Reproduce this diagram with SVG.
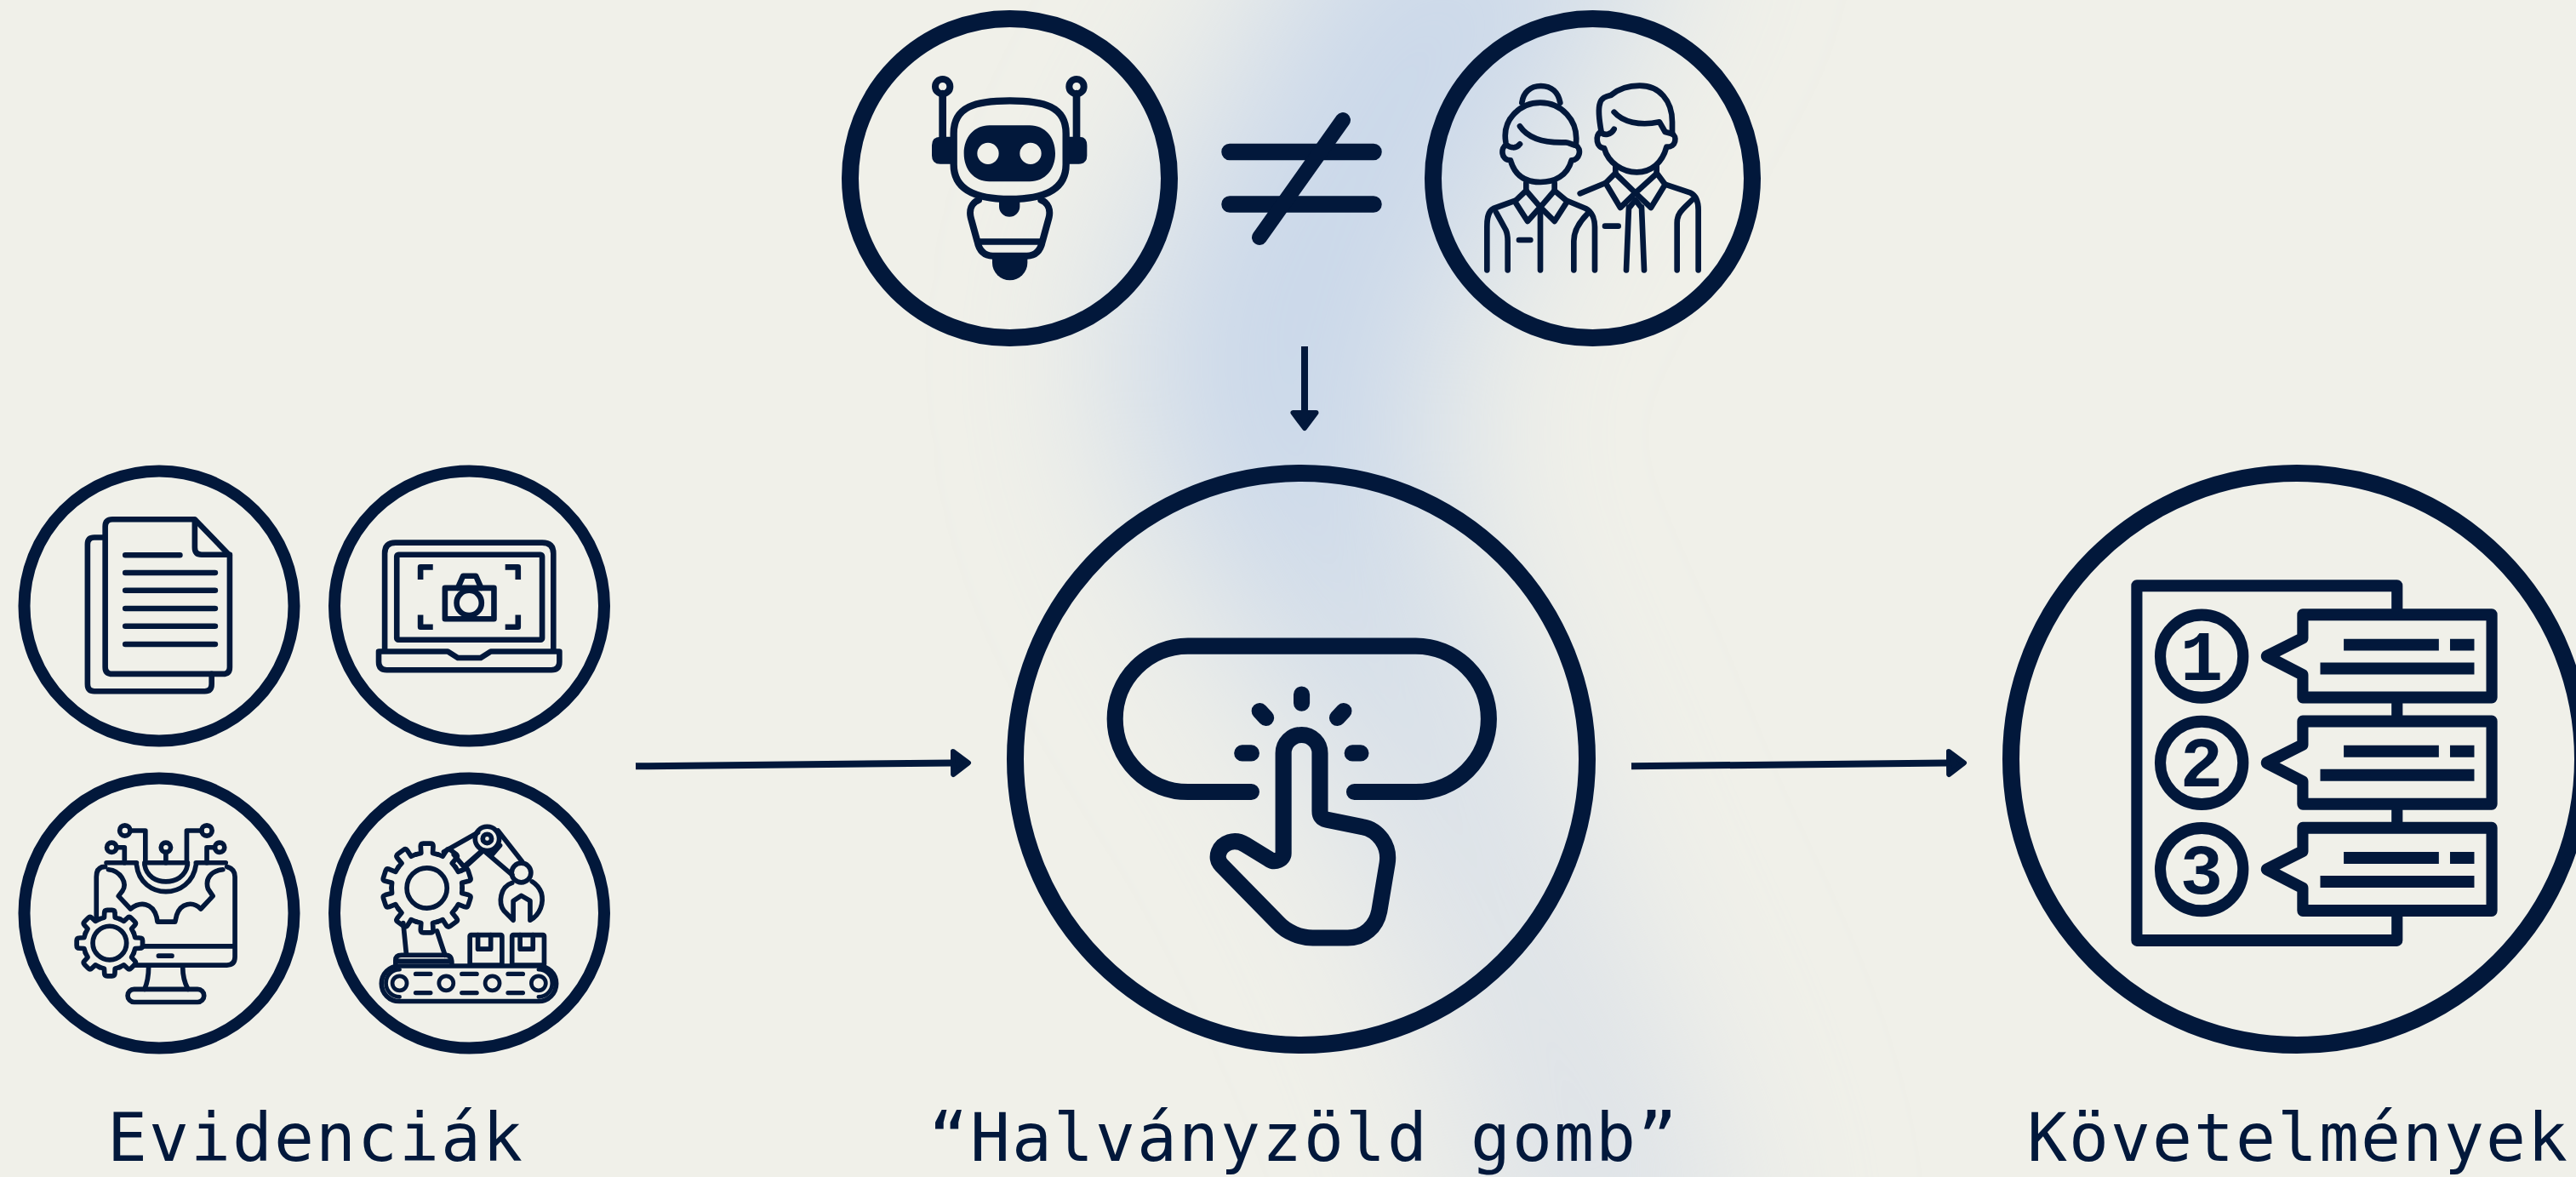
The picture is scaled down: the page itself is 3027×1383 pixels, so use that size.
<svg xmlns="http://www.w3.org/2000/svg" width="3027" height="1383" viewBox="0 0 3027 1383">
<style>
.l{fill:none;stroke:#02183b;stroke-linecap:round;stroke-linejoin:round}
.f{fill:#02183b}
.c{fill:none;stroke:#02183b}
.a{fill:none;stroke:#02183b;stroke-width:8}
.t{font-family:"DejaVu Sans Mono","Liberation Mono",monospace;font-size:78px;letter-spacing:2.040px;fill:#02183b}
.n{font-family:"Liberation Mono","DejaVu Sans Mono",monospace;font-size:84px;font-weight:700;fill:#02183b;text-anchor:middle}
</style>
<defs>
<filter id="blur" filterUnits="userSpaceOnUse" x="700" y="-500" width="1900" height="2400"><feGaussianBlur stdDeviation="100"/></filter>
<linearGradient id="blob" gradientUnits="userSpaceOnUse" x1="0" y1="0" x2="0" y2="1383">
<stop offset="0" stop-color="#cad8ea"/><stop offset=".38" stop-color="#cad8ea"/><stop offset=".6" stop-color="#d6dfe9"/><stop offset=".8" stop-color="#dde2e8"/><stop offset="1" stop-color="#dde2e8"/>
</linearGradient>
<marker id="head" markerUnits="userSpaceOnUse" markerWidth="30" markerHeight="40" refX="3" refY="20" orient="auto" viewBox="0 0 30 40">
<path d="M3,6.500 L21,20 L3,33.500 Z" fill="#02183b" stroke="#02183b" stroke-width="6" stroke-linejoin="round"/>
</marker>
<path id="tooth8" d="M-24.900,-60.100 Q-18,-62 -13.500,-63.600 L-13,-75 Q-13,-82 -6,-82 H6 Q13,-82 13,-75 L13.500,-63.600 Q18,-62 24.900,-60.100"/>
<path id="tooth10" d="M-27.200,-83.700 Q-21,-85.500 -14.500,-86.800 L-15.600,-104 Q-15.600,-111 -9,-111 H9 Q15.600,-111 15.600,-104 L14.500,-86.800 Q21,-85.500 27.200,-83.700"/>
</defs>
<rect width="3027" height="1383" fill="#f0f0e9"/>
<path id="glow" filter="url(#blur)" fill="url(#blob)" d="M1580,-150 L1980,-150 C1860,100 1730,300 1680,450 C1660,600 1780,800 1840,950 C1880,1100 2040,1300 2040,1550 L1770,1550 C1750,1300 1640,1100 1540,900 C1440,750 1340,600 1320,450 C1300,300 1460,100 1580,-150Z"/>

<g id="connectors">
<line class="a" x1="747" y1="900.300" x2="1120" y2="896.500" marker-end="url(#head)"/>
<line class="a" x1="1917" y1="900.300" x2="2290" y2="896.500" marker-end="url(#head)"/>
<line class="a" x1="1533" y1="407" x2="1533" y2="485" marker-end="url(#head)"/>
</g>

<g id="neq">
<path class="l" stroke-width="19.500" d="M1445,178.500 H1614 M1445,240 H1614"/>
<path class="l" stroke-width="18" d="M1578,141 L1480,279"/>
</g>

<g id="robot">
<circle class="c" cx="1186.500" cy="209.500" r="187.500" stroke-width="20"/>
<g transform="translate(1060,70) scale(.33333)">
<path class="l" stroke-width="26" d="M143,120 V280 M615,120 V280"/>
<circle class="c" cx="143" cy="95" r="26" stroke-width="24"/>
<circle class="c" cx="615" cy="95" r="26" stroke-width="24"/>
<path class="f" d="M172,272 H135 Q105,272 105,302 V338 Q105,368 135,368 H178 Z M588,272 H622 Q652,272 652,302 V338 Q652,368 622,368 H583 Z"/>
<path class="l" stroke-width="25" d="M380,145 C500,145 578,165 578,260 V370 C578,460 500,492 380,492 C260,492 182,460 182,370 V260 C182,165 260,145 380,145Z"/>
<path class="f" fill-rule="evenodd" d="M308,232 H450 C505,232 540,275 540,331 C540,387 505,430 450,430 H308 C253,430 218,387 218,331 C218,275 253,232 308,232Z M341,331 A38,38 0 1 0 265,331 A38,38 0 1 0 341,331Z M491,331 A38,38 0 1 0 415,331 A38,38 0 1 0 491,331Z"/>
<path class="l" stroke-width="24" d="M270,495 C245,505 235,530 243,560 L265,640 C272,675 290,692 320,692 H440 C470,692 488,675 495,640 L517,560 C525,530 515,505 490,495"/>
<path class="f" d="M342,495 H415 V518 A36.500,36.500 0 0 1 342,518 Z"/>
<path class="l" stroke-width="22" stroke-linecap="butt" d="M270,642 H490"/>
<path class="f" d="M318,695 H442 V716 A62,62 0 0 1 318,716 Z"/>
</g>
</g>

<g id="people">
<circle class="c" cx="1871.500" cy="209.500" r="187.500" stroke-width="20"/>
<g transform="translate(1730,80) scale(.33333)" class="l" stroke-width="20">
<path d="M175,122 C180,85 205,63 242,63 C280,63 303,85 310,122"/>
<path d="M118,260 C105,180 170,122 240,122 C310,122 378,180 365,272"/>
<path d="M168,268 C155,285 135,282 120,270 C100,280 100,325 135,325 C150,380 190,402 240,402 C290,402 335,380 350,325 C378,325 388,285 365,272"/>
<path d="M168,205 C195,245 250,265 330,262 C340,262 350,270 362,272"/>
<path d="M190,405 V432 M290,405 V432"/>
<path d="M190,432 L150,470 L195,540 L240,490 L290,540 L335,470 L290,432 M190,432 L240,490 L290,432"/>
<path d="M150,468 L75,495 C55,505 52,530 52,560 V712 M335,468 L400,495 C420,505 432,530 432,560 V712"/>
<path d="M85,510 L118,570 C125,585 125,595 125,610 V712 M405,515 C380,540 358,570 358,610 V712 M240,495 V712 M165,606 H205"/>
<path d="M455,225 C445,170 445,140 450,125 C455,105 470,100 490,95 C520,70 550,62 590,62 C660,62 705,115 705,190 L705,232"/>
<path d="M500,155 C530,190 590,205 660,190 L680,225 L705,232"/>
<path d="M500,215 C490,235 465,240 452,225 C432,240 438,282 465,282 C480,335 530,367 580,367 C630,367 670,335 685,278 C720,280 722,240 705,232"/>
<path d="M505,345 V370 M650,345 V370"/>
<path d="M505,370 L470,405 L522,492 L575,440 L630,492 L680,410 L650,370 M505,372 L575,440 L650,372"/>
<path d="M555,490 L575,465 L595,490 M552,490 L543,712 M597,490 L606,712"/>
<path d="M380,442 L470,405 M680,410 L770,440 C790,450 797,470 797,500 V712 M775,465 C745,495 722,510 722,545 V712 M468,557 H515"/>
</g>
</g>

<g id="documents">
<circle class="c" cx="187" cy="712" r="158.500" stroke-width="14"/>
<g transform="translate(0,530) scale(.47192)" class="l" stroke-width="14">
<path d="M255,215 H235 Q218,215 218,232 V580 Q218,598 235,598 H510 Q527,598 527,580 V555"/>
<path d="M485,170 H280 Q262,170 262,188 V538 Q262,555 280,555 H555 Q572,555 572,538 V260 Z"/>
<path d="M485,172 V240 Q485,258 502,258 H572"/>
<path d="M312,259 H448 M312,303 H536 M312,347 H536 M312,392 H536 M312,436 H536 M312,481 H536"/>
</g>
</g>

<g id="laptop">
<circle class="c" cx="551.500" cy="712" r="158.500" stroke-width="14"/>
<g transform="translate(0,530) scale(.47192)" class="l" stroke-width="14">
<path d="M958,495 V255 Q958,228 985,228 H1350 Q1378,228 1378,255 V495"/>
<rect x="988" y="258" width="362" height="212" rx="4"/>
<path d="M943,499 H1115 L1140,515 H1197 L1222,499 H1393 V525 Q1393,545 1373,545 H963 Q943,545 943,525Z"/>
<path stroke-linecap="butt" d="M1078,289 H1047 V320 M1258,289 H1290 V320 M1047,408 V438 H1078 M1290,408 V438 H1258"/>
<rect x="1108" y="341" width="122" height="77"/>
<path d="M1140,341 L1153,311 H1185 L1198,341"/>
<circle cx="1168" cy="378" r="31"/>
</g>
</g>

<g id="monitor">
<circle class="c" cx="187" cy="1073" r="158.500" stroke-width="14"/>
<g transform="translate(0,530) scale(.47192)" class="l" stroke-width="12">
<circle cx="311" cy="945" r="13"/><circle cx="515" cy="945" r="13"/><circle cx="278" cy="987" r="12"/><circle cx="547" cy="987" r="12"/><circle cx="413" cy="987" r="12"/>
<path d="M324,945 H362 V1025 M502,945 H465 V1025 M290,987 H310 V1025 M535,987 H515 V1025 M413,999 V1025"/>
<path d="M265,1025 H340 M360,1025 H467 M488,1025 H562"/>
<path d="M360,1030 C365,1060 390,1072 413,1072 C436,1072 462,1060 467,1030 M340,1030 C345,1075 380,1097 413,1097 C446,1097 482,1075 488,1030"/>
<path d="M270,1042 C300,1045 318,1075 305,1095 L295,1108 L325,1140 C350,1120 380,1125 390,1160 L392,1172 H436 L440,1155 C450,1125 480,1120 500,1140 L530,1108 L518,1090 C510,1065 525,1045 555,1042"/>
<path d="M240,1165 V1060 Q240,1035 262,1035 M565,1035 Q585,1040 585,1060 V1260 Q585,1280 565,1280 H335 M355,1233 H580"/>
<path d="M370,1285 Q370,1315 360,1340 M455,1285 Q455,1315 468,1340 M395,1257 H428"/>
<rect x="318" y="1340" width="190" height="32" rx="16"/>
<circle cx="273" cy="1225" r="42"/>
<g transform="translate(273,1225)">
<use href="#tooth8"/><use href="#tooth8" transform="rotate(45)"/><use href="#tooth8" transform="rotate(90)"/><use href="#tooth8" transform="rotate(135)"/><use href="#tooth8" transform="rotate(180)"/><use href="#tooth8" transform="rotate(225)"/><use href="#tooth8" transform="rotate(270)"/><use href="#tooth8" transform="rotate(315)"/>
</g>
</g>
</g>

<g id="factory">
<circle class="c" cx="551.500" cy="1073" r="158.500" stroke-width="14"/>
<g transform="translate(0,530) scale(.47192)" class="l" stroke-width="12">
<circle cx="1063" cy="1088" r="50"/>
<g transform="translate(1063,1088)">
<use href="#tooth10"/><use href="#tooth10" transform="rotate(36)"/><use href="#tooth10" transform="rotate(72)"/><use href="#tooth10" transform="rotate(108)"/><use href="#tooth10" transform="rotate(144)"/><use href="#tooth10" transform="rotate(180)"/><use href="#tooth10" transform="rotate(216)"/><use href="#tooth10" transform="rotate(252)"/><use href="#tooth10" transform="rotate(288)"/><use href="#tooth10" transform="rotate(324)"/>
</g>
<path d="M1004,1175 L1012,1255 M1088,1195 L1108,1255"/>
<path d="M985,1278 V1268 Q985,1255 1000,1255 H1110 Q1125,1255 1125,1275 M990,1270 H1118"/>
<rect x="1170" y="1205" width="80" height="75" rx="3"/>
<path d="M1190,1205 V1240 H1222 V1205"/>
<rect x="1275" y="1205" width="80" height="75" rx="3"/>
<path d="M1295,1205 V1240 H1327 V1205"/>
<rect x="950" y="1282" width="435" height="88" rx="44"/>
<path stroke-width="10" d="M995,1291 A34,34 0 0 0 995,1359 M1341,1291 A34,34 0 0 1 1341,1359"/>
<g stroke-width="10"><circle cx="995" cy="1325" r="18"/><circle cx="1111" cy="1325" r="18"/><circle cx="1226" cy="1325" r="18"/><circle cx="1341" cy="1325" r="18"/></g>
<path stroke-width="11" d="M1035,1302 H1072 M1150,1302 H1187 M1265,1302 H1302 M1035,1349 H1072 M1150,1349 H1187 M1265,1349 H1302"/>
<path d="M1105,998 L1190,950 M1130,1005 L1155,1035 L1200,995 M1148,1045 L1200,998"/>
<circle cx="1213" cy="965" r="30"/><circle cx="1213" cy="965" r="11"/>
<path d="M1240,945 L1300,1022 M1205,995 L1275,1055 M1225,1005 L1245,982"/>
<circle cx="1298" cy="1050" r="24"/>
<path d="M1275,1075 C1245,1085 1240,1125 1255,1145 L1278,1168 V1120 L1298,1107 L1320,1120 V1168 C1345,1155 1355,1125 1348,1100 C1342,1085 1335,1078 1325,1072"/>
</g>
</g>

<g id="button">
<circle class="c" cx="1529" cy="892" r="336" stroke-width="20"/>
<g transform="translate(1170,530) scale(.46575)" class="l" stroke-width="41">
<path d="M645,860 H485 A184,184 0 0 1 485,492 H1060 A184,184 0 0 1 1060,860 H905"/>
<path d="M772,614 V636 M666,656 L682,673 M878,656 L862,673 M622,762 H645 M900,762 H921"/>
<path d="M726,1015 V762 A46,46 0 0 1 818,762 V908 Q818,925 835,930 L925,948 C965,955 995,995 988,1040 L968,1160 C960,1200 930,1228 888,1228 H800 C770,1228 735,1215 712,1190 L570,1045 C550,1025 565,995 590,987 C605,982 620,987 630,993 L690,1030 C705,1040 726,1030 726,1015 Z"/>
</g>
</g>

<g id="requirements">
<circle class="c" cx="2699" cy="892" r="336" stroke-width="20"/>
<g transform="translate(2340,530) scale(.43820,.46550)" class="l" stroke-width="30">
<path d="M1088,400 V340 H390 V1235 H1088 V1175 M1088,637 V668 M1088,906 V938"/>
<g id="row"><path d="M835,413 H1342 V622 H835 V565 L738,518 L835,472 Z"/><ellipse cx="564" cy="518" rx="111" ry="104.500"/><path stroke-linecap="butt" d="M945,489 H1200 M1230,489 H1295 M882,549 H1295"/></g>
<use href="#row" y="269"/>
<use href="#row" y="538"/>
</g>
<text class="n" x="2587" y="799">1</text>
<text class="n" x="2587" y="924">2</text>
<text class="n" x="2587" y="1050">3</text>
</g>

<g id="labels">
<text class="t" x="126" y="1364">Evidenciák</text>
<text class="t" x="1091" y="1364">“Halványzöld gomb”</text>
<text class="t" x="2382" y="1364">Követelmények</text>
</g>
</svg>
